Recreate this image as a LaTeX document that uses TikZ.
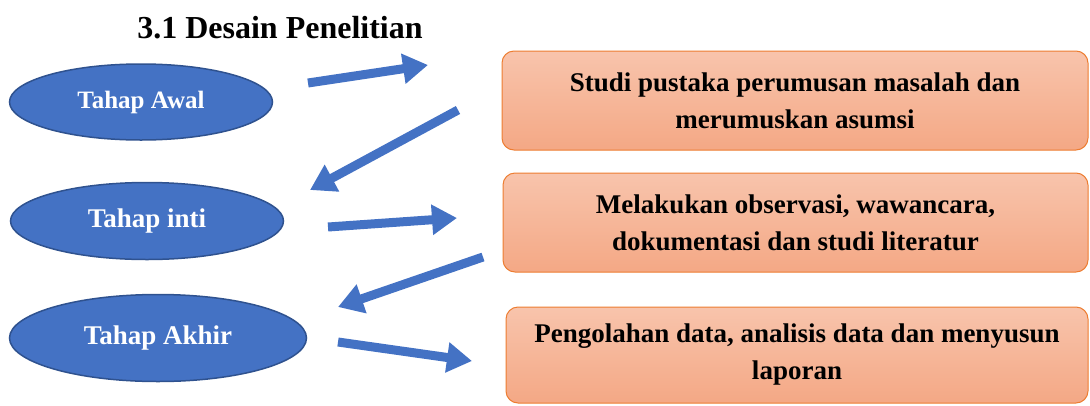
\documentclass[tikz,border=0pt]{standalone}
\usepackage{fontspec}
\setmainfont{Liberation Serif}
\usetikzlibrary{shapes.geometric,arrows.meta}
\definecolor{tahapblue}{HTML}{4472C4}
\definecolor{tahapline}{HTML}{2F528F}
\definecolor{boxline}{HTML}{ED7D31}
\definecolor{boxtop}{RGB}{248,196,172}
\definecolor{boxbottom}{RGB}{244,168,133}

\tikzset{
  tahap/.style={ellipse, draw=tahapline, line width=1.5pt, fill=tahapblue,
    text=white, font=\bfseries\fontsize{25}{28}\selectfont, inner sep=0pt},
  kegiatan/.style={rectangle, rounded corners=12pt, draw=boxline, line width=1pt,
    top color=boxtop, bottom color=boxbottom, align=center, inner sep=0pt,
    font=\bfseries\fontsize{27}{37}\selectfont},
  panah/.style={draw=tahapblue, line width=9pt, -{Triangle[length=25pt,width=29pt]}}
}

\begin{document}
\begin{tikzpicture}[x=1pt,y=-1pt]
\useasboundingbox (0,0) rectangle (1090,405);

% Judul
\node[anchor=base, font=\bfseries\fontsize{32}{36}\selectfont] (judul) at (280,38) {3.1 Desain Penelitian};

% Tahap (ellipses)
\node[tahap, minimum width=263pt, minimum height=76pt] (awal) at (141,102) {Tahap Awal};
\node[tahap, minimum width=273pt, minimum height=77pt, font=\bfseries\fontsize{27}{30}\selectfont] (inti) at (147,221) {Tahap inti};
\node[tahap, minimum width=297pt, minimum height=87pt, font=\bfseries\fontsize{27}{30}\selectfont] (akhir) at (158,338) {Tahap Akhir};

% Kegiatan (boxes)
\node[kegiatan, minimum width=586pt, minimum height=99pt] (studi) at (795,100.5)
  {Studi pustaka perumusan masalah dan\\merumuskan asumsi};
\node[kegiatan, minimum width=585pt, minimum height=99pt] (observasi) at (795.5,222.5)
  {Melakukan observasi, wawancara,\\dokumentasi dan studi literatur};
\node[kegiatan, minimum width=582pt, minimum height=96pt] (olah) at (797,355)
  {Pengolahan data, analisis data dan menyusun\\laporan};

% Arrow ends
\coordinate (a1s) at (308,83);  \coordinate (a1e) at (428,65);
\coordinate (a2s) at (458,110); \coordinate (a2e) at (310,190);
\coordinate (a3s) at (328,227); \coordinate (a3e) at (457,218);
\coordinate (a4s) at (483,257); \coordinate (a4e) at (338,307);
\coordinate (a5s) at (338,342); \coordinate (a5e) at (472,361);

% Arrows
\draw[panah] (a1s) -- (a1e);
\draw[panah] (a2s) -- (a2e);
\draw[panah] (a3s) -- (a3e);
\draw[panah] (a4s) -- (a4e);
\draw[panah] (a5s) -- (a5e);

\end{tikzpicture}
\end{document}
